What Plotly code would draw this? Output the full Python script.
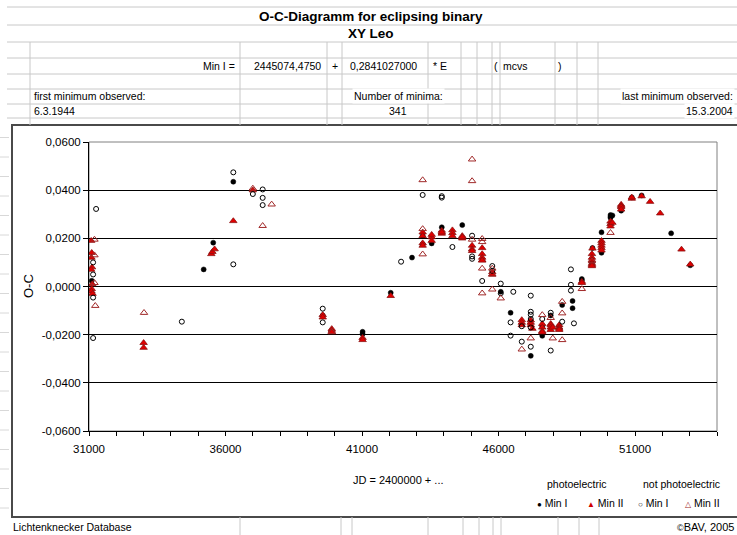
import plotly.graph_objects as go

W, H = 737, 535

# ---------------- data ----------------
pe_min1_x = [31100, 35200, 35550, 36285, 39560, 41020, 41020, 42050, 42830, 43220, 43220,
             43550, 43920, 44670, 46080, 46440, 47180, 47600, 47600, 47910, 48220, 48330,
             48710, 48710, 49050, 49050, 49420, 49440, 49770, 49770, 50100, 50100, 50170,
             50100, 50490, 50880, 51240, 52320, 53020]
pe_min1_y = [0.0024, 0.0071, 0.0182, 0.0435, -0.0120, -0.0188, -0.0197, -0.0026, 0.0120, 0.0210, 0.0176,
             0.0179, 0.0246, 0.0255, -0.0022, -0.0109, -0.0288, -0.0165, -0.0205, -0.0120, -0.0165, -0.0077,
             -0.0060, -0.0090, 0.0031, 0.0025, 0.0100, 0.0160, 0.0225, 0.0140, 0.0297, 0.0290, 0.0295,
             0.0285, 0.0315, 0.0370, 0.0378, 0.0221, 0.0088]

pe_min2_x = [31080, 31100, 31090, 31110, 31080, 31120, 31100, 31090, 31130,
             33000, 33000, 35480, 35520, 35600, 36285, 37000,
             39560, 39560, 39890, 39890, 39890, 41020, 41020, 42050,
             43220, 43220, 43220, 43220, 43550, 43550, 43550, 43920, 43920, 43920,
             44310, 44310, 44310, 44670, 44670, 44670, 45030, 45030, 45030,
             45400, 45400, 45400, 45400, 45400, 45770, 45770,
             46850, 46850, 46850, 47180, 47180, 47180, 47240,
             47600, 47600, 47600, 47600, 47910, 47910, 47910, 47910, 47985,
             48220, 48220, 48220, 48220, 49050, 49050,
             49420, 49420, 49420, 49420, 49420, 49420, 49440,
             49770, 49770, 49770, 49770, 49770, 50100, 50100, 50100, 50170,
             50490, 50490, 50490, 50490, 50880, 50880, 51240, 51550, 51920, 52700, 53020]
pe_min2_y = [0.0190, 0.0140, 0.0120, 0.0080, 0.0070, 0.0010, -0.0010, -0.0020, -0.0030,
             -0.0234, -0.0254, 0.0135, 0.0144, 0.0155, 0.0272, 0.0400,
             -0.0118, -0.0128, -0.0176, -0.0183, -0.0190, -0.0213, -0.0222, -0.0039,
             0.0225, 0.0210, 0.0180, 0.0170, 0.0205, 0.0215, 0.0190, 0.0232, 0.0220, 0.0225,
             0.0234, 0.0222, 0.0210, 0.0210, 0.0200, 0.0205, 0.0170, 0.0155, 0.0148,
             0.0160, 0.0135, 0.0120, 0.0110, 0.0108, 0.0060, 0.0050,
             -0.0139, -0.0150, -0.0160, -0.0140, -0.0150, -0.0160, -0.0175,
             -0.0155, -0.0170, -0.0185, -0.0190, -0.0155, -0.0160, -0.0170, -0.0180, -0.0170,
             -0.0160, -0.0170, -0.0175, -0.0180, 0.0020, 0.0015,
             0.0135, 0.0120, 0.0110, 0.0095, 0.0090, 0.0085, 0.0158,
             0.0190, 0.0180, 0.0170, 0.0160, 0.0150, 0.0270, 0.0260, 0.0250, 0.0265,
             0.0340, 0.0335, 0.0330, 0.0320, 0.0365, 0.0370, 0.0375, 0.0352, 0.0304, 0.0154, 0.0092]

npe_min1_x = [31260, 31150, 31150, 31150, 31150, 34400, 36285, 36285, 37000, 37360, 37360, 37360,
              39560, 39560, 42430, 43220, 43920, 43920, 44310, 45030, 45030, 45030, 45400,
              45770, 45770, 46080, 46080, 46440, 46440, 46540, 46850, 46850,
              47180, 47180, 47180, 47180, 47180, 47180, 47600, 47910, 47910, 48330,
              48650, 48650, 48650, 48760]
npe_min1_y = [0.0322, -0.0214, -0.0046, 0.0050, 0.0100, -0.0146, 0.0474, 0.0092, 0.0384, 0.0403, 0.0368, 0.0338,
              -0.0092, -0.0149, 0.0103, 0.0380, 0.0375, 0.0369, 0.0164, 0.0211, 0.0125, 0.0115, 0.0023,
              0.0085, 0.0065, 0.0012, -0.0028, -0.0149, -0.0204, -0.0022, -0.0229, -0.0165,
              -0.0038, -0.0105, -0.0117, -0.0135, -0.0170, -0.0250, -0.0135, -0.0109, -0.0266, -0.0146,
              0.0071, -0.0017, 0.0007, -0.0153]

npe_min2_x = [31200, 31200, 31200, 31230, 33015, 37000, 37360, 37690, 39890,
              43220, 43220, 43220, 45030, 45030, 45030, 45400, 45400, 45400, 45400,
              45770, 45770, 45770, 46080, 46850, 47180, 47600, 47910, 47985,
              48330, 48330, 48330, 49050, 49420, 50100]
npe_min2_y = [0.0195, 0.0130, 0.0015, -0.0080, -0.0109, 0.0407, 0.0252, 0.0341, -0.0188,
              0.0442, 0.0239, 0.0134, 0.0528, 0.0438, 0.0195, 0.0198, 0.0185, 0.0075, -0.0028,
              0.0075, 0.0050, -0.0012, -0.0049, -0.0261, -0.0215, -0.0118, -0.0130, -0.0215,
              -0.0063, -0.0222, -0.0111, -0.0010, 0.0105, 0.0223]

x_tick_vals = list(range(31000, 54001, 1000))
x_tick_text = ["31000" if v == 31000 else "36000" if v == 36000 else "41000" if v == 41000
               else "46000" if v == 46000 else "51000" if v == 51000 else "" for v in x_tick_vals]
y_tick_vals = [-0.06, -0.04, -0.02, 0.0, 0.02, 0.04, 0.06]
y_tick_text = ["-0,0600", "-0,0400", "-0,0200", "0,0000", "0,0200", "0,0400", "0,0600"]

FONT = "Liberation Sans, Arial, sans-serif"


def px(x):
    return x / W


def py(y):
    return 1 - y / H


fig = go.Figure()
fig.add_trace(go.Scatter(x=pe_min1_x, y=pe_min1_y, mode="markers", name="Min I",
                         marker=dict(symbol="circle", size=5, color="black",
                                     line=dict(width=0.5, color="black"))))
fig.add_trace(go.Scatter(x=pe_min2_x, y=pe_min2_y, mode="markers", name="Min II",
                         marker=dict(symbol="triangle-up", size=6.5, color="#e00000",
                                     line=dict(width=0.8, color="#8b1010"))))
fig.add_trace(go.Scatter(x=npe_min1_x, y=npe_min1_y, mode="markers", name="Min I",
                         marker=dict(symbol="circle-open", size=5, color="black",
                                     line=dict(width=1, color="black"))))
fig.add_trace(go.Scatter(x=npe_min2_x, y=npe_min2_y, mode="markers", name="Min II",
                         marker=dict(symbol="triangle-up-open", size=6.5, color="#a02828",
                                     line=dict(width=1, color="#a02828"))))

shapes = []
grey = "#c8c8c8"
# header spreadsheet grid
for yy in [7, 25, 42, 58, 74, 89, 104, 118]:
    shapes.append(dict(type="line", xref="paper", yref="paper", x0=px(7), x1=px(737),
                       y0=py(yy), y1=py(yy), line=dict(color=grey, width=1)))
cols = [30, 240, 327, 342, 428, 461, 477, 492, 500, 555, 577, 598]
for xx in cols:
    shapes.append(dict(type="line", xref="paper", yref="paper", x0=px(xx), x1=px(xx),
                       y0=py(42), y1=py(125), line=dict(color=grey, width=1)))
for xx in [240, 341, 352, 428, 463, 479, 493, 501, 558, 579, 599]:
    shapes.append(dict(type="line", xref="paper", yref="paper", x0=px(xx), x1=px(xx),
                       y0=py(517), y1=py(535), line=dict(color=grey, width=1)))
for k in range(20):
    yy = 137.5 + 19.5 * k
    if yy > 515:
        break
    shapes.append(dict(type="line", xref="paper", yref="paper", x0=px(0), x1=px(9),
                       y0=py(yy), y1=py(yy), line=dict(color="#d8d8d8", width=1)))
# chart frame
shapes.append(dict(type="rect", xref="paper", yref="paper", x0=px(12), x1=px(740),
                   y0=py(517), y1=py(125), line=dict(color="#4a4a4a", width=2), layer="below"))
# plot area border (grey right/top)
shapes.append(dict(type="rect", xref="paper", yref="paper", x0=px(89), x1=px(717),
                   y0=py(431), y1=py(142), line=dict(color="#808080", width=1), layer="below"))

ann = []


def txt(x, y, s, size=10.5, xa="left", bold=False, **kw):
    ann.append(dict(x=px(x), y=py(y), xref="paper", yref="paper", text=("<b>%s</b>" % s) if bold else s,
                    showarrow=False, xanchor=xa, yanchor="middle",
                    font=dict(family=FONT, size=size, color="black"), **kw))


txt(371, 16, "O-C-Diagramm for eclipsing binary", 13.5, "center", True)
txt(371, 34, "XY Leo", 13.5, "center", True)
txt(237, 66, "Min I =", 10.5, "right")
txt(323, 66, "2445074,4750", 10.5, "right")
txt(330, 66, "+", 10.5, "left")
txt(348, 66, "0,2841027000", 10.5, "left")
txt(431, 66, "* E", 10.5, "left")
txt(492, 66, "(", 10.5, "left")
txt(501, 66, "mcvs", 10.5, "left")
txt(556, 66, ")", 10.5, "left")
txt(32, 96, "first minimum observed:", 10.5, "left")
txt(398, 96, "Number of minima:", 10.5, "center", bgcolor="white")
txt(735, 96, "last minimum observed:", 10.5, "right", bgcolor="white")
txt(32, 111, "6.3.1944", 10.5, "left")
txt(398, 111, "341", 10.5, "center")
txt(735, 111, "15.3.2004", 10.5, "right", bgcolor="white")
txt(28, 286, "O-C", 13, "center", textangle=-90)
txt(398, 480, "JD = 2400000 + ...", 11, "center")
txt(577, 484, "photoelectric", 10.5, "center")
txt(681, 484, "not photoelectric", 10.5, "center")
txt(535, 503, "<span style='font-size:8px'>●</span> Min I", 10.5, "left")
txt(585, 503, "<span style='font-size:8px;color:#d00000'>▲</span> Min II", 10.5, "left")
txt(636, 503, "<span style='font-size:8px'>○</span> Min I", 10.5, "left")
txt(683, 503, "<span style='font-size:8px;color:#a02828'>△</span> Min II", 10.5, "left")
txt(11, 527, "Lichtenknecker Database", 10.5, "left")
txt(736, 527, "<span style='font-size:9px'>©</span>BAV, 2005", 11, "right")

fig.update_layout(
    width=W, height=H, autosize=False,
    margin=dict(l=0, r=0, t=0, b=0, autoexpand=False),
    paper_bgcolor="white", plot_bgcolor="white",
    showlegend=False,
    shapes=shapes, annotations=ann,
    font=dict(family=FONT, size=11, color="black"),
    xaxis=dict(domain=[px(89), px(717)], range=[31000, 54000], tickmode="array",
               tickvals=x_tick_vals, ticktext=x_tick_text, ticks="outside", ticklen=4,
               ticklabelstandoff=3,
               tickcolor="black", showgrid=False, zeroline=False, showline=True, automargin=False,
               linecolor="black", linewidth=1, tickfont=dict(size=11.5, family=FONT)),
    yaxis=dict(domain=[py(431), py(142)], range=[-0.06, 0.06], tickmode="array",
               tickvals=y_tick_vals, ticktext=y_tick_text, ticks="outside", ticklen=5,
               tickcolor="black", showgrid=True, gridcolor="black", gridwidth=1, automargin=False,
               zeroline=False, showline=True, linecolor="black", linewidth=1,
               tickfont=dict(size=11.5, family=FONT)),
)

fig.write_html("out.html", config={"displayModeBar": False},
               post_script="document.body.style.margin='0';document.body.style.overflow='hidden';")
